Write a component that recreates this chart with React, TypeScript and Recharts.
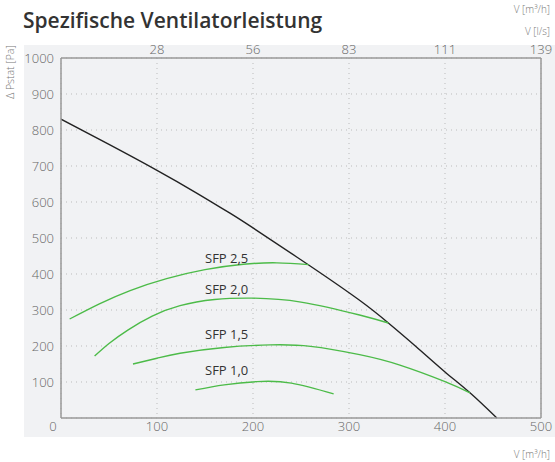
import React from 'react';
import { LineChart, Line, XAxis, YAxis, CartesianGrid, ReferenceLine, ReferenceDot } from 'recharts';

const xTicks = [0, 100, 200, 300, 400, 500];
const topTicks = [100, 200, 300, 400, 500];
const topTickLabels = ['28', '56', '83', '111', '139'];
const yTicks = [0, 100, 200, 300, 400, 500, 600, 700, 800, 900, 1000];

const fanCurve = [
  { x: 0, y: 830 }, { x: 50, y: 760 }, { x: 100, y: 688 }, { x: 140, y: 627 },
  { x: 176, y: 569 }, { x: 200, y: 528 }, { x: 258, y: 425 }, { x: 311, y: 327 },
  { x: 341, y: 264 }, { x: 370, y: 198 }, { x: 400, y: 128 }, { x: 426, y: 70 }, { x: 454, y: 0 },
];
const sfp25 = [
  { x: 9, y: 275 }, { x: 40, y: 317 }, { x: 72, y: 354 }, { x: 110, y: 387 },
  { x: 150, y: 412 }, { x: 190, y: 427 }, { x: 225, y: 431 }, { x: 258, y: 426 },
];
const sfp20 = [
  { x: 35, y: 172 }, { x: 50, y: 207 }, { x: 70, y: 245 }, { x: 95, y: 283 },
  { x: 124, y: 312 }, { x: 160, y: 329 }, { x: 199, y: 333 }, { x: 250, y: 322 },
  { x: 311, y: 286 }, { x: 341, y: 264 },
];
const sfp15 = [
  { x: 75, y: 150 }, { x: 100, y: 166 }, { x: 124, y: 180 }, { x: 170, y: 196 },
  { x: 218, y: 203 }, { x: 260, y: 199 }, { x: 311, y: 176 }, { x: 353, y: 147 },
  { x: 400, y: 101 }, { x: 426, y: 70 },
];
const sfp10 = [
  { x: 140, y: 78 }, { x: 170, y: 92 }, { x: 204, y: 101 }, { x: 240, y: 97 }, { x: 284, y: 67 },
];
const curveLabels = [
  { x: 150, y: 445, text: 'SFP 2,5' },
  { x: 150, y: 357, text: 'SFP 2,0' },
  { x: 150, y: 232, text: 'SFP 1,5' },
  { x: 150, y: 133, text: 'SFP 1,0' },
];

const FONT = '"Open Sans", "Noto Sans", sans-serif';
const GREEN = '#4cbb48';
const AXIS = '#999';

const BottomTick = (props: any) => {
  const { x, y, payload } = props;
  const dx = payload.value === 0 ? -8 : 0;
  return (
    <text x={x + dx} y={y} dy={10} textAnchor="middle" fill="#666" fontSize={13} fontFamily={FONT} fontWeight={300}>
      {payload.value}
    </text>
  );
};

const TopTick = (props: any) => {
  const { x, y, payload } = props;
  const i = topTicks.indexOf(payload.value);
  return (
    <text x={x} y={y} dy={-1} textAnchor="middle" fill="#666" fontSize={13} fontFamily={FONT} fontWeight={300}>
      {i >= 0 ? topTickLabels[i] : ''}
    </text>
  );
};

const LeftTick = (props: any) => {
  const { x, y, payload } = props;
  if (payload.value === 0) return null;
  return (
    <text x={x} y={y} dy={5} textAnchor="end" fill="#666" fontSize={13} fontFamily={FONT} fontWeight={300}>
      {payload.value}
    </text>
  );
};

export default function App() {
  return (
    <div style={{ position: 'absolute', left: 0, top: 0, width: 555, height: 462, background: '#fff', fontFamily: FONT }}>
      <div style={{ position: 'absolute', left: 24, top: 45, width: 531, height: 392, background: '#f1f2f4' }} />
      <div style={{ position: 'absolute', left: 23, top: 6, fontSize: 21, lineHeight: '29px', fontWeight: 600, color: '#333', whiteSpace: 'nowrap' }}>
        Spezifische Ventilatorleistung
      </div>
      <div style={{ position: 'absolute', right: 5, top: 2, fontSize: 10, color: '#777', fontWeight: 300 }}>V [m³/h]</div>
      <div style={{ position: 'absolute', right: 5, top: 24, fontSize: 10, color: '#777', fontWeight: 300 }}>V [l/s]</div>
      <div style={{ position: 'absolute', right: 5, top: 447, fontSize: 10, color: '#777', fontWeight: 300 }}>V [m³/h]</div>
      <div style={{ position: 'absolute', left: 10, top: 72, transform: 'translate(-50%, -50%) rotate(-90deg)', fontSize: 10.5, color: '#777', fontWeight: 300, whiteSpace: 'nowrap' }}>
        Δ Pstat [Pa]
      </div>
      <div style={{ position: 'absolute', left: 0, top: 0 }}>
        <LineChart width={555} height={462} margin={{ top: 38, right: 14, bottom: 24, left: 0 }}>
          <CartesianGrid stroke="#bbb" strokeDasharray="1 4" />
          <XAxis
            dataKey="x" type="number" domain={[0, 500]} ticks={xTicks} allowDataOverflow
            height={20} tickSize={0} tickMargin={3} axisLine={{ stroke: AXIS, strokeWidth: 1.5 }}
            tick={<BottomTick />} interval={0}
          />
          <XAxis
            xAxisId="top" orientation="top" dataKey="x" type="number" domain={[0, 500]} ticks={topTicks} allowDataOverflow
            height={20} tickSize={0} tickMargin={3} axisLine={{ stroke: AXIS, strokeWidth: 1.5 }}
            tick={<TopTick />} interval={0}
          />
          <YAxis
            type="number" domain={[0, 1000]} ticks={yTicks} width={61} tickSize={0} tickMargin={7}
            axisLine={{ stroke: AXIS, strokeWidth: 1.5 }} tick={<LeftTick />} interval={0}
          />
          <ReferenceLine x={500} stroke={AXIS} strokeWidth={1.5} />
          <Line xAxisId="top" data={fanCurve} dataKey="y" type="natural" stroke="none" dot={false} isAnimationActive={false} />
          <Line data={fanCurve} dataKey="y" type="natural" stroke="#222" strokeWidth={1.4} dot={false} isAnimationActive={false} />
          <Line data={sfp25} dataKey="y" type="natural" stroke={GREEN} strokeWidth={1.4} dot={false} isAnimationActive={false} />
          <Line data={sfp20} dataKey="y" type="natural" stroke={GREEN} strokeWidth={1.4} dot={false} isAnimationActive={false} />
          <Line data={sfp15} dataKey="y" type="natural" stroke={GREEN} strokeWidth={1.4} dot={false} isAnimationActive={false} />
          <Line data={sfp10} dataKey="y" type="natural" stroke={GREEN} strokeWidth={1.4} dot={false} isAnimationActive={false} />
          {curveLabels.map((l) => (
            <ReferenceDot
              key={l.text} x={l.x} y={l.y} r={0}
              shape={(p: any) => (
                <text x={p.cx} y={p.cy} dy={5} fill="#333" fontSize={13} fontFamily={FONT} fontWeight={500}>
                  {l.text}
                </text>
              )}
            />
          ))}
        </LineChart>
      </div>
    </div>
  );
}
